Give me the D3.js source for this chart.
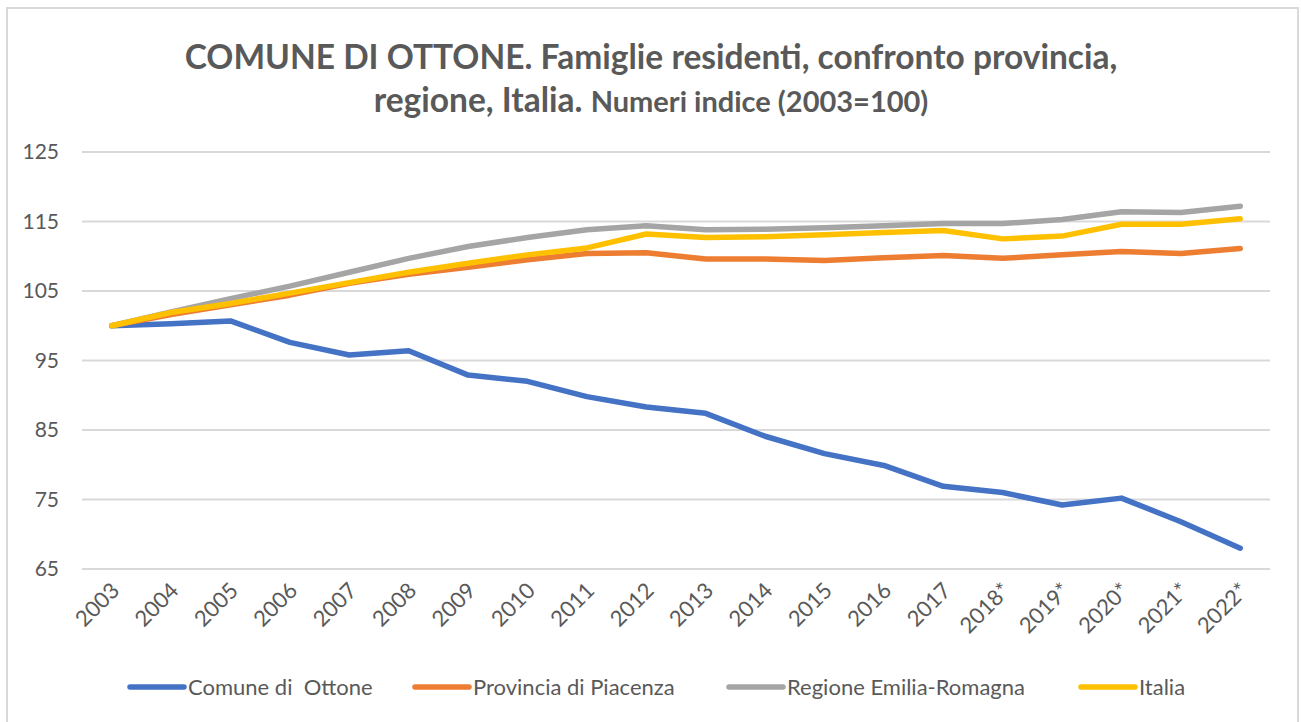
<!DOCTYPE html>
<html>
<head>
<meta charset="utf-8">
<script src="https://cdn.jsdelivr.net/npm/d3@7"></script>
<style>
  body { margin: 0; background: #fff; }
  svg { font-family: Lato, "Open Sans", sans-serif; }
</style>
</head>
<body>
<svg></svg>
<script>
const width = 1301;
const height = 722;

const years = ["2003", "2004", "2005", "2006", "2007", "2008", "2009", "2010", "2011", "2012",
    "2013", "2014", "2015", "2016", "2017", "2018*", "2019*", "2020*", "2021*", "2022*"];
const yTicks = [65, 75, 85, 95, 105, 115, 125];

const ottone = [100, 100.3, 100.7, 97.6, 95.8, 96.4, 92.9, 92.0, 89.8, 88.3,
    87.4, 84.1, 81.6, 79.9, 76.9, 76.0, 74.2, 75.2, 71.8, 68.0];
const piacenza = [100, 101.6, 103.0, 104.4, 106.1, 107.4, 108.4, 109.5, 110.4, 110.5,
    109.6, 109.6, 109.4, 109.8, 110.1, 109.7, 110.2, 110.7, 110.4, 111.1];
const emiliaRomagna = [100, 102.0, 103.9, 105.7, 107.7, 109.7, 111.4, 112.7, 113.8, 114.4,
    113.8, 113.9, 114.1, 114.4, 114.7, 114.7, 115.3, 116.4, 116.3, 117.2];
const italia = [100, 101.9, 103.2, 104.7, 106.2, 107.7, 109.0, 110.2, 111.2, 113.2,
    112.7, 112.8, 113.1, 113.4, 113.7, 112.5, 112.9, 114.6, 114.6, 115.4];

const series = [
    { name: "Comune di  Ottone", values: ottone, color: "#4472C4" },
    { name: "Provincia di Piacenza", values: piacenza, color: "#ED7D31" },
    { name: "Regione Emilia-Romagna", values: emiliaRomagna, color: "#A5A5A5" },
    { name: "Italia", values: italia, color: "#FFC000" }
];

const svg = d3.select("svg")
    .attr("width", width)
    .attr("height", height);

// chart frame
svg.append("rect")
    .attr("x", 7).attr("y", 8)
    .attr("width", 1291).attr("height", 730)
    .attr("fill", "#fff")
    .attr("stroke", "#d9d9d9")
    .attr("stroke-width", 2);

// title
const title = svg.append("text")
    .attr("text-anchor", "middle")
    .attr("fill", "#595959")
    .attr("font-weight", "bold");
title.append("tspan")
    .attr("x", 651).attr("y", 69)
    .attr("font-size", 33.5)
    .text("COMUNE DI OTTONE. Famiglie residenti, confronto provincia,");
const t2 = title.append("tspan")
    .attr("x", 651).attr("y", 112);
t2.append("tspan").attr("font-size", 33.5).text("regione, Italia. ");
t2.append("tspan").attr("font-size", 29).text("Numeri indice (2003=100)");

const x = d3.scalePoint()
    .domain(years)
    .range([82, 1270])
    .padding(0.5);

const y = d3.scaleLinear()
    .domain([65, 125])
    .range([569, 152]);

// gridlines
svg.append("g")
    .selectAll("line")
    .data(yTicks)
    .enter()
    .append("line")
    .attr("x1", 82).attr("x2", 1270)
    .attr("y1", d => y(d)).attr("y2", d => y(d))
    .attr("stroke", "#d9d9d9")
    .attr("stroke-width", 2);

// y labels
svg.append("g")
    .selectAll("text")
    .data(yTicks)
    .enter()
    .append("text")
    .attr("x", 59)
    .attr("y", d => y(d) + 7)
    .attr("text-anchor", "end")
    .attr("font-size", 21)
    .attr("fill", "#595959")
    .text(d => d);

// x labels
svg.append("g")
    .selectAll("text")
    .data(years)
    .enter()
    .append("text")
    .attr("transform", d => `translate(${x(d) + 9},${592}) rotate(-45)`)
    .attr("text-anchor", "end")
    .attr("font-size", 22)
    .attr("fill", "#595959")
    .text(d => d);

const line = d3.line()
    .x((d, i) => x(years[i]))
    .y(d => y(d));

svg.append("g")
    .selectAll("path")
    .data(series)
    .enter()
    .append("path")
    .attr("d", d => line(d.values))
    .attr("fill", "none")
    .attr("stroke", d => d.color)
    .attr("stroke-width", 5.5)
    .attr("stroke-linejoin", "round")
    .attr("stroke-linecap", "round");

// legend
const legendX = [130, 415, 729, 1081];
const legend = svg.append("g")
    .selectAll("g")
    .data(series)
    .enter()
    .append("g")
    .attr("transform", (d, i) => `translate(${legendX[i]},687)`);

legend.append("line")
    .attr("x1", 0).attr("x2", 54)
    .attr("stroke", d => d.color)
    .attr("stroke-width", 5.5)
    .attr("stroke-linecap", "round");

legend.append("text")
    .attr("x", 58)
    .attr("y", 7.5)
    .attr("font-size", 22)
    .attr("fill", "#595959")
    .style("white-space", "pre")
    .text(d => d.name);
</script>
</body>
</html>
